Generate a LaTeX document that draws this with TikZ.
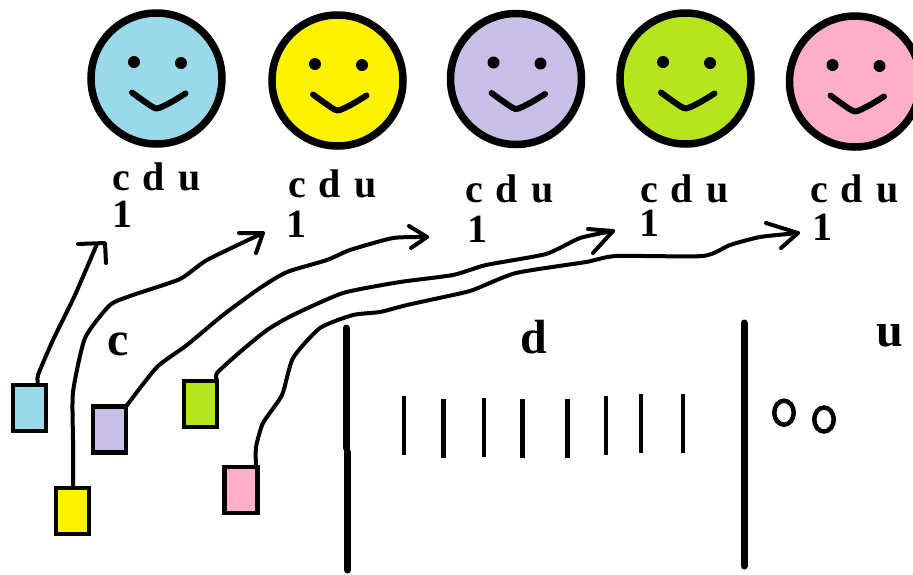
\documentclass[tikz,border=0pt]{standalone}
\usepackage{fontspec}
\setmainfont{Liberation Serif}
\definecolor{cblue}{HTML}{99D9EA}
\definecolor{cyellow}{HTML}{FFF200}
\definecolor{clilac}{HTML}{C8BFE7}
\definecolor{cgreen}{HTML}{B5E61D}
\definecolor{cpink}{HTML}{FFAEC9}
\usetikzlibrary{shapes.geometric}
\newcommand{\widegaps}{\spaceskip=0.33em\relax}
\tikzset{
  face/.style={circle,draw=black,line width=7.5pt,minimum size=131pt,inner sep=0pt,outer sep=0pt},
  tag/.style={rectangle,draw=black,line width=4.5pt,minimum width=33pt,minimum height=46pt,inner sep=0pt,outer sep=0pt},
  wire/.style={draw=black,line width=4pt,line cap=round,line join=round},
  smile/.style={draw=black,line width=6pt,line cap=round,line join=round},
  bar/.style={draw=black,line width=7pt,line cap=round},
  tick/.style={draw=black,line width=4.6pt},
  oval/.style={ellipse,draw=black,line width=4.5pt,inner sep=0pt,outer sep=0pt,minimum width=19.5pt,minimum height=24pt},
  small/.style={font=\bfseries\fontsize{40pt}{40pt}\selectfont,anchor=base west,inner sep=0pt,outer sep=0pt},
  big/.style={font=\bfseries\fontsize{48pt}{48pt}\selectfont,anchor=base west,inner sep=0pt,outer sep=0pt}
}
\begin{document}
\begin{tikzpicture}[x=1pt,y=-1pt]
\useasboundingbox (0,0) rectangle (913,574);
\clip (0,0) rectangle (913,574);
\fill[white] (0,0) rectangle (913,574);
% faces
\foreach \nm/\col/\cx/\cy in {one/cblue/156.5/78.5,two/cyellow/337.5/80.5,three/clilac/516/79,four/cgreen/685.5/78.5,five/cpink/855/81.5}{
  \node[face,fill=\col] (face\nm) at (\cx,\cy) {};
  \fill[black] (\cx-22.5,\cy-16.5) circle (6pt);
  \fill[black] (\cx+24.5,\cy-15.5) circle (6pt);
  \draw[smile] plot[smooth,tension=.4] coordinates {(\cx-24.5,\cy+14) (\cx-12,\cy+23) (\cx,\cy+30) (\cx+14,\cy+24) (\cx+29,\cy+15)};
}
% small labels
\foreach \nm/\ax/\ay/\bx/\by in {one/112/190/112/227,two/288/197/286/237,three/465/202/467/242,four/640/202/639/236,five/810/202/812/240}{
  \node[small] (cdu\nm) at (\ax,\ay) {\widegaps c d u};
  \node[small] (num\nm) at (\bx,\by) {1};
}
% big labels
\node[big] (lc) at (107,355) {c};
\node[big] (ld) at (520,353) {d};
\node[big] (lu) at (876,346) {u};
% tags
\node[tag,fill=cblue] (tagblue) at (29.5,408) {};
\node[tag,fill=cyellow] (tagyellow) at (72.5,511) {};
\node[tag,fill=clilac] (taglilac) at (109.5,429.5) {};
\node[tag,fill=cgreen] (taggreen) at (200.5,404) {};
\node[tag,fill=cpink] (tagpink) at (241,490) {};
% arrow ends
\coordinate (tipblue) at (105,243);
\coordinate (endblue) at (97,244);
\coordinate (tipyellow) at (263,233);
\coordinate (tiplilac) at (427,237);
\coordinate (tipgreen) at (613,231);
\coordinate (tippink) at (798,233);
% connectors
\draw[wire] plot[smooth,tension=.3] coordinates {([xshift=8.5pt]tagblue.north) (38,375) (53,340) (75,295) (endblue)};
\draw[wire] (78,244) -- (tipblue) -- (106,263);
\draw[wire] plot[smooth,tension=.35] coordinates {([xshift=.5pt]tagyellow.north) (73,440) (73,392) (85,338) (110,305) (133,295) (180,279) (207,260) (tipyellow)};
\draw[wire] (239,233) -- (tipyellow) -- (256,253);
\draw[wire] plot[smooth,tension=.35] coordinates {(taglilac.north east) (157,367) (187,345) (223,315) (260,288) (287,272) (327,260) (350,250) (393,238) (tiplilac)};
\draw[wire] (409,226) -- (tiplilac) -- (411,248);
\draw[wire] plot[smooth,tension=.35] coordinates {([xshift=16.5pt]taggreen.north) (217,373) (240,352) (267,330) (293,315) (343,293) (400,282) (453,275) (486,265) (546,254) (580,238) (tipgreen)};
\draw[wire] (588,229) -- (tipgreen) -- (593,253);
\draw[wire] plot[smooth,tension=.35] coordinates {([xshift=15pt]tagpink.north) (256,447) (263,423) (282,395) (293,358) (320,328) (353,315) (380,312) (407,305) (453,295) (473,290) (516,273) (586,262) (616,256) (703,256) (730,245) (760,237) (tippink)};
\draw[wire] (766,223) -- (tippink) -- (781,248);
% thick bars
\draw[bar] (346,328) -- (346,448);
\draw[bar] (347.5,452) -- (347.5,570);
\draw[bar] (744,323) -- (744,566);
% ticks
\foreach \tx/\ta/\tb in {404/396/455,443.5/399/458,484/397.5/456.5,522.5/399/458,567.5/399/458,606/396/455,641/394/453,683/394/453}{
  \draw[tick] (\tx,\ta) -- (\tx,\tb);
}
% ovals
\node[oval] (ovala) at (784,412.7) {};
\node[oval] (ovalb) at (824,419.5) {};
\end{tikzpicture}
\end{document}
